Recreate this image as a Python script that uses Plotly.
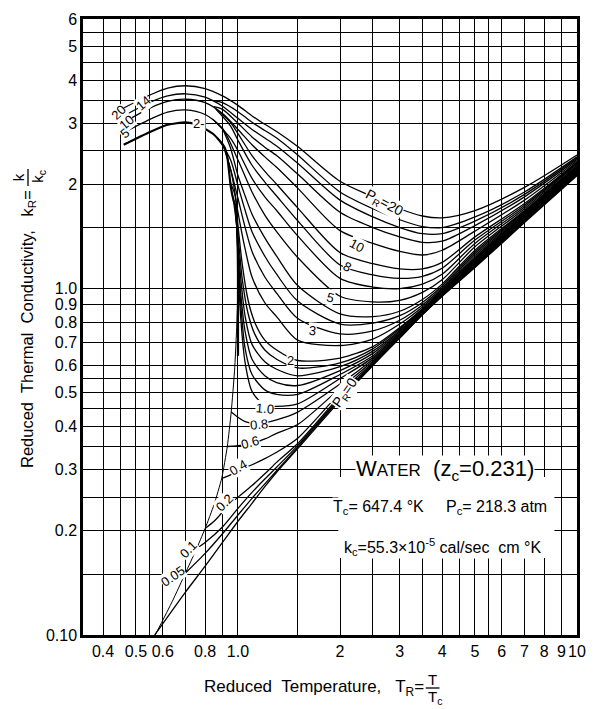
import math
import plotly.graph_objects as go

# ---------------- grid / tick data ----------------
X_GRID = [0.4, 0.45, 0.5, 0.55, 0.6, 0.7, 0.8, 0.9, 1.0, 1.5, 2, 2.5, 3, 3.5, 4, 4.5, 5, 5.5, 6, 7, 8, 9, 10]
X_TEXT = ["0.4", "", "0.5", "", "0.6", "", "0.8", "", "1.0", "", "2", "", "3", "", "4", "", "5", "", "6", "7", "8", "9", "10"]
Y_GRID = [0.1, 0.15, 0.2, 0.25, 0.3, 0.35, 0.4, 0.45, 0.5, 0.55, 0.6, 0.7, 0.8, 0.9, 1.0, 1.5, 2, 2.5, 3, 3.5, 4, 4.5, 5, 5.5, 6]
Y_TEXT = ["0.10", "", "0.2", "", "0.3", "", "0.4", "", "0.5", "", "0.6", "0.7", "0.8", "0.9", "1.0", "", "2", "", "3", "", "4", "", "5", "", "6"]

# ---------------- curve data (reduced temperature T_R, reduced conductivity k_R) ----------------
T_RIGHT = [1.5, 2.0, 2.5, 3.0, 3.5, 4.0, 5.0, 7.0, 10.0]

T_L_P20 = [0.46, 0.55, 0.62, 0.70, 0.80, 0.90, 1.0, 1.1, 1.2, 1.3]
K_L_P20 = [3.32, 3.62, 3.79, 3.85, 3.78, 3.60, 3.38, 3.15, 2.98, 2.84]
K_R_P20 = [2.57, 2.04, 1.84, 1.70, 1.62, 1.60, 1.68, 1.96, 2.43]

T_L_P16 = [0.85, 0.9, 1.0, 1.1, 1.2, 1.3]
K_L_P16 = [3.48, 3.44, 3.24, 3.02, 2.86, 2.72]
K_R_P16 = [2.43, 1.90, 1.70, 1.58, 1.51, 1.50, 1.61, 1.90, 2.40]

T_L_P14 = [0.46, 0.55, 0.62, 0.70, 0.80, 0.90, 1.0, 1.1, 1.2, 1.3]
K_L_P14 = [3.15, 3.45, 3.60, 3.65, 3.57, 3.36, 3.10, 2.88, 2.72, 2.58]
K_R_P14 = [2.30, 1.80, 1.61, 1.50, 1.44, 1.44, 1.565, 1.87, 2.38]

T_L_P12 = [0.85, 0.9, 1.0, 1.1, 1.2, 1.3]
K_L_P12 = [3.35, 3.29, 3.00, 2.74, 2.56, 2.42]
K_R_P12 = [2.14, 1.66, 1.50, 1.41, 1.36, 1.37, 1.52, 1.84, 2.36]

T_L_P10 = [0.46, 0.55, 0.62, 0.70, 0.80, 0.90, 1.0, 1.1, 1.2, 1.3]
K_L_P10 = [3.02, 3.32, 3.47, 3.52, 3.44, 3.20, 2.88, 2.60, 2.40, 2.24]
K_R_P10 = [1.95, 1.47, 1.35, 1.28, 1.25, 1.29, 1.465, 1.80, 2.34]

T_L_P8 = [0.88, 0.95, 1.0, 1.1, 1.2, 1.3]
K_L_P8 = [3.25, 3.02, 2.80, 2.42, 2.18, 2.00]
K_R_P8 = [1.71, 1.27, 1.18, 1.14, 1.14, 1.19, 1.41, 1.76, 2.32]

T_L_P7 = [0.86, 0.95, 1.0, 1.1, 1.2, 1.3]
K_L_P7 = [3.30, 2.95, 2.68, 2.27, 2.03, 1.85]
K_R_P7 = [1.57, 1.17, 1.095, 1.07, 1.085, 1.145, 1.38, 1.74, 2.31]

T_L_P6 = [0.84, 0.95, 1.0, 1.1, 1.2, 1.3]
K_L_P6 = [3.09, 2.72, 2.50, 2.08, 1.84, 1.68]
K_R_P6 = [1.42, 1.07, 1.01, 1.00, 1.03, 1.10, 1.35, 1.72, 2.30]

T_L_P5 = [0.46, 0.55, 0.62, 0.70, 0.80, 0.90, 1.0, 1.1, 1.2, 1.3]
K_L_P5 = [2.82, 3.08, 3.23, 3.28, 3.18, 2.90, 2.35, 1.90, 1.63, 1.46]
K_R_P5 = [1.23, 0.95, 0.915, 0.925, 0.975, 1.06, 1.32, 1.70, 2.29]

T_L_P4 = [0.90, 0.95, 1.0, 1.05, 1.1, 1.2, 1.3]
K_L_P4 = [2.90, 2.55, 2.12, 1.85, 1.64, 1.40, 1.24]
K_R_P4 = [1.02, 0.845, 0.83, 0.86, 0.93, 1.03, 1.29, 1.68, 2.27]

T_L_P35 = [0.88, 0.95, 1.0, 1.05, 1.1, 1.2, 1.3]
K_L_P35 = [2.68, 2.36, 1.98, 1.68, 1.46, 1.24, 1.10]
K_R_P35 = [0.92, 0.79, 0.795, 0.835, 0.912, 1.017, 1.275, 1.67, 2.26]

T_L_P3 = [0.90, 0.95, 1.0, 1.05, 1.1, 1.2, 1.3]
K_L_P3 = [2.62, 2.22, 1.82, 1.50, 1.28, 1.08, 0.97]
K_R_P3 = [0.82, 0.74, 0.755, 0.81, 0.897, 1.005, 1.26, 1.66, 2.25]

T_L_P25 = [0.92, 0.96, 1.0, 1.05, 1.1, 1.2, 1.3]
K_L_P25 = [2.48, 2.12, 1.66, 1.30, 1.08, 0.91, 0.83]
K_R_P25 = [0.71, 0.685, 0.715, 0.79, 0.885, 0.995, 1.245, 1.65, 2.24]

T_L_P2 = [0.95, 0.98, 1.0, 1.03, 1.07, 1.12, 1.2, 1.3]
K_L_P2 = [2.02, 1.86, 1.52, 1.17, 0.93, 0.80, 0.71, 0.665]
K_R_P2 = [0.62, 0.63, 0.68, 0.772, 0.875, 0.987, 1.23, 1.64, 2.23]

T_L_P18 = [0.97, 1.0, 1.03, 1.07, 1.12, 1.2, 1.3]
K_L_P18 = [1.80, 1.42, 1.06, 0.85, 0.74, 0.665, 0.625]
K_R_P18 = [0.59, 0.61, 0.67, 0.765, 0.87, 0.983, 1.222, 1.635, 2.22]

T_L_P16b = [0.98, 1.0, 1.02, 1.05, 1.1, 1.2, 1.3]
K_L_P16b = [1.74, 1.36, 1.06, 0.83, 0.69, 0.615, 0.585]
K_R_P16b = [0.56, 0.595, 0.66, 0.758, 0.866, 0.979, 1.215, 1.63, 2.215]

T_L_P14b = [0.985, 1.0, 1.02, 1.05, 1.1, 1.2, 1.3]
K_L_P14b = [1.70, 1.30, 0.96, 0.75, 0.625, 0.56, 0.535]
K_R_P14b = [0.525, 0.58, 0.65, 0.752, 0.862, 0.975, 1.208, 1.62, 2.21]

T_L_P12b = [0.99, 1.0, 1.02, 1.05, 1.1, 1.2, 1.3]
K_L_P12b = [1.60, 1.25, 0.89, 0.67, 0.565, 0.51, 0.495]
K_R_P12b = [0.495, 0.565, 0.64, 0.746, 0.858, 0.971, 1.20, 1.61, 2.20]

T_L_P10b = [0.995, 1.0, 1.02, 1.05, 1.1, 1.2, 1.3]
K_L_P10b = [1.48, 1.20, 0.81, 0.61, 0.505, 0.46, 0.457]
K_R_P10b = [0.465, 0.55, 0.632, 0.741, 0.855, 0.968, 1.193, 1.60, 2.19]

T_L_P08 = [0.955, 1.0, 1.05, 1.14, 1.3]
K_L_P08 = [0.44, 0.425, 0.413, 0.407, 0.418]
K_R_P08 = [0.44, 0.53, 0.625, 0.736, 0.852, 0.964, 1.186, 1.595, 2.18]

T_L_P06 = [0.93, 1.0, 1.1, 1.2, 1.3]
K_L_P06 = [0.35, 0.352, 0.357, 0.368, 0.382]
K_R_P06 = [0.405, 0.515, 0.618, 0.732, 0.849, 0.961, 1.179, 1.59, 2.17]

T_L_P04 = [0.895, 0.95, 1.0, 1.1, 1.2, 1.3]
K_L_P04 = [0.283, 0.29, 0.298, 0.31, 0.323, 0.337]
K_R_P04 = [0.37, 0.50, 0.612, 0.728, 0.847, 0.958, 1.172, 1.58, 2.16]

T_L_P02 = [0.80, 0.85, 0.9, 1.0, 1.1, 1.2, 1.3]
K_L_P02 = [0.203, 0.213, 0.226, 0.25, 0.27, 0.292, 0.315]
K_R_P02 = [0.357, 0.49, 0.607, 0.725, 0.845, 0.956, 1.165, 1.57, 2.15]

T_L_P01 = [0.75, 0.8, 0.9, 1.0, 1.1, 1.2, 1.3]
K_L_P01 = [0.177, 0.185, 0.205, 0.232, 0.258, 0.282, 0.305]
K_R_P01 = [0.352, 0.485, 0.604, 0.723, 0.843, 0.954, 1.16, 1.565, 2.14]

T_L_P005 = [0.70, 0.8, 0.9, 1.0, 1.1, 1.2, 1.3]
K_L_P005 = [0.151, 0.172, 0.196, 0.222, 0.248, 0.273, 0.298]
K_R_P005 = [0.348, 0.48, 0.602, 0.721, 0.841, 0.952, 1.155, 1.558, 2.13]

T_L_P0 = [0.568, 0.7, 0.8, 0.9, 1.0, 1.1, 1.2, 1.3]
K_L_P0 = [0.100, 0.133, 0.158, 0.185, 0.213, 0.24, 0.268, 0.295]
K_R_P0 = [0.345, 0.475, 0.60, 0.72, 0.84, 0.95, 1.15, 1.55, 2.12]

# saturation envelope
T_SAT_LIQ = [0.46, 0.55, 0.62, 0.70, 0.76, 0.85, 0.91, 0.93, 0.952, 0.97, 0.984, 0.995, 1.0, 1.0]
K_SAT_LIQ = [2.60, 2.83, 2.97, 3.02, 2.97, 2.78, 2.57, 2.40, 1.97, 1.80, 1.72, 1.48, 1.10, 0.64]
T_SAT_VAP = [0.57, 0.64, 0.70, 0.75, 0.80, 0.85, 0.895, 0.93, 0.955, 0.977, 0.99, 0.997]
K_SAT_VAP = [0.100, 0.125, 0.151, 0.175, 0.203, 0.238, 0.283, 0.35, 0.44, 0.58, 0.75, 0.92]

CURVES = [
    ("20", T_L_P20, K_L_P20, K_R_P20), ("16", T_L_P16, K_L_P16, K_R_P16),
    ("14", T_L_P14, K_L_P14, K_R_P14), ("12", T_L_P12, K_L_P12, K_R_P12),
    ("10", T_L_P10, K_L_P10, K_R_P10), ("8", T_L_P8, K_L_P8, K_R_P8),
    ("7", T_L_P7, K_L_P7, K_R_P7), ("6", T_L_P6, K_L_P6, K_R_P6),
    ("5", T_L_P5, K_L_P5, K_R_P5), ("4", T_L_P4, K_L_P4, K_R_P4),
    ("3.5", T_L_P35, K_L_P35, K_R_P35), ("3", T_L_P3, K_L_P3, K_R_P3),
    ("2.5", T_L_P25, K_L_P25, K_R_P25), ("2", T_L_P2, K_L_P2, K_R_P2),
    ("1.8", T_L_P18, K_L_P18, K_R_P18), ("1.6", T_L_P16b, K_L_P16b, K_R_P16b),
    ("1.4", T_L_P14b, K_L_P14b, K_R_P14b), ("1.2", T_L_P12b, K_L_P12b, K_R_P12b),
    ("1.0", T_L_P10b, K_L_P10b, K_R_P10b), ("0.8", T_L_P08, K_L_P08, K_R_P08),
    ("0.6", T_L_P06, K_L_P06, K_R_P06), ("0.4", T_L_P04, K_L_P04, K_R_P04),
    ("0.2", T_L_P02, K_L_P02, K_R_P02), ("0.1", T_L_P01, K_L_P01, K_R_P01),
    ("0.05", T_L_P005, K_L_P005, K_R_P005), ("0", T_L_P0, K_L_P0, K_R_P0),
]

# ---------------- figure geometry ----------------
W, H = 595, 709
ML, MR, MT, MB = 83, 9, 19, 74
PW, PH = W - ML - MR, H - MT - MB


def px(xp):
    return (xp - ML) / PW


def py(yp):
    return (H - MB - yp) / PH


FONT = "Liberation Sans"
fig = go.Figure()

for name, tl, kl, kr in CURVES:
    fig.add_trace(go.Scatter(
        x=tl + T_RIGHT, y=kl + kr, mode="lines", name="P_R=" + name,
        line=dict(color="black", width=1.3, shape="spline", smoothing=0.8),
        hoverinfo="skip", showlegend=False))

fig.add_trace(go.Scatter(x=T_SAT_LIQ, y=K_SAT_LIQ, mode="lines",
                         line=dict(color="black", width=2.2, shape="spline", smoothing=0.5),
                         hoverinfo="skip", showlegend=False))
fig.add_trace(go.Scatter(x=T_SAT_VAP, y=K_SAT_VAP, mode="lines",
                         line=dict(color="black", width=1.0, shape="spline", smoothing=0.5),
                         hoverinfo="skip", showlegend=False))

axis_common = dict(type="log", showgrid=True, gridcolor="black", gridwidth=1.2,
                   showline=True, mirror=True, linecolor="black", linewidth=2.5,
                   ticks="", zeroline=False,
                   tickfont=dict(family=FONT, size=16, color="black"))

fig.update_layout(
    width=W, height=H, paper_bgcolor="white", plot_bgcolor="white",
    margin=dict(l=ML, r=MR, t=MT, b=MB),
    xaxis=dict(range=[math.log10(0.349), 1.0], tickvals=X_GRID, ticktext=X_TEXT, **axis_common),
    yaxis=dict(range=[-1.0, math.log10(6)], tickvals=Y_GRID, ticktext=Y_TEXT, **axis_common),
)

shapes = []
# white panel for the data box
shapes.append(dict(type="rect", xref="paper", yref="paper", x0=px(343), x1=px(563),
                   y0=py(558), y1=py(477), fillcolor="white", line=dict(width=0), layer="above"))
# fraction bars in axis titles
shapes.append(dict(type="line", xref="paper", yref="paper", x0=px(432), x1=px(446),
                   y0=py(688), y1=py(688), line=dict(color="black", width=1.3)))
shapes.append(dict(type="line", xref="paper", yref="paper", x0=px(27), x1=px(27),
                   y0=py(169), y1=py(186), line=dict(color="black", width=1.3)))
fig.update_layout(shapes=shapes)

ann = []


def lab(text, xp, yp, size=12, angle=0, bg=True, **kw):
    d = dict(text=text, x=px(xp), y=py(yp), xref="paper", yref="paper", showarrow=False,
             textangle=angle, font=dict(family=FONT, size=size, color="black"),
             xanchor="center", yanchor="middle", borderpad=0)
    if bg:
        d["bgcolor"] = "white"
    d.update(kw)
    ann.append(d)


# liquid-side labels
lab("20", 119, 112, size=13, angle=-45)
lab("14", 144, 103, size=13, angle=-40)
lab("10", 127, 122, size=13, angle=-40)
lab("5", 125, 133, size=13, angle=-40)
lab("2-", 201, 124, size=13, angle=0)
# right-side labels
lab("P<sub>R</sub>=20", 389, 203, size=14, angle=28)
lab("10", 362, 245, size=13, angle=28)
lab("8", 352, 266, size=13, angle=28)
lab("5", 335, 297, size=13, angle=15)
lab("3", 317, 330, size=13, angle=5)
lab("2", 294, 360, size=13, angle=0)
lab("1.0", 268, 408, size=13, angle=5)
lab("0.8", 262, 424, size=13, angle=-5)
lab("0.6", 253, 442, size=13, angle=-15)
lab("0.4", 241, 467, size=13, angle=-30)
lab("0.2", 227, 502, size=13, angle=-45)
lab("0.1", 190, 549, size=13, angle=-45)
lab("0.05", 174, 576, size=13, angle=-35)
lab("P<sub>R</sub>=0", 350, 393, size=14, angle=-55)

# data box
lab("W<span style='font-size:17px'>ATER</span>  (z<sub>c</sub>=0.231)", 452, 470, size=22)
lab("T<sub>c</sub>= 647.4 °K     P<sub>c</sub>= 218.3 atm", 447, 508, size=16)
lab("k<sub>c</sub>=55.3×10<sup>-5</sup> cal/sec  cm °K", 449, 547, size=16)

# axis titles
lab("Reduced  Temperature,   T<sub>R</sub>=", 431, 688, size=17, bg=False, xanchor="right")
lab("T", 439, 679, size=15, bg=False)
lab("T<sub>c</sub>", 441, 697, size=15, bg=False)
lab("Reduced  Thermal  Conductivity,   k<sub>R</sub>=", 27, 329, size=16.5, angle=-90, bg=False)
lab("k", 18, 177, size=15, angle=-90, bg=False)
lab("k<sub>c</sub>", 37, 176, size=15, angle=-90, bg=False)

fig.update_layout(annotations=ann)
fig.write_html("out.html", config={"displayModeBar": False},
               post_script="document.body.style.margin='0';")
